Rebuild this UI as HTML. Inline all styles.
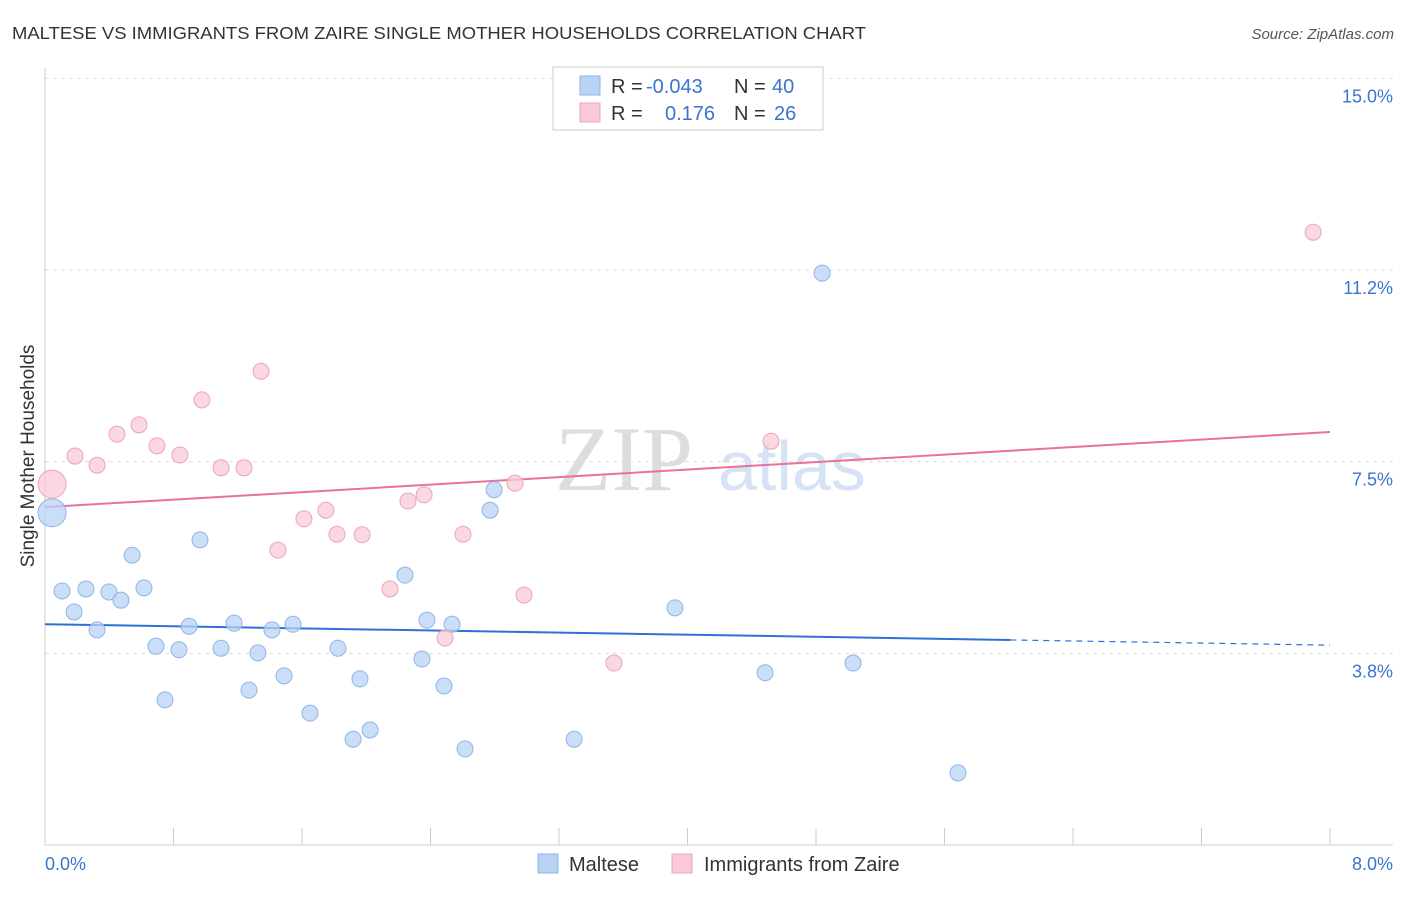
<!DOCTYPE html>
<html><head><meta charset="utf-8"><style>
body{margin:0;background:#fff;font-family:"Liberation Sans",sans-serif;}
</style></head><body>
<svg id="chart" width="1406" height="892" xmlns="http://www.w3.org/2000/svg" style="font-family:'Liberation Sans',sans-serif">
<text x="12" y="39" font-size="17.5" fill="#333" textLength="854" lengthAdjust="spacingAndGlyphs">MALTESE VS IMMIGRANTS FROM ZAIRE SINGLE MOTHER HOUSEHOLDS CORRELATION CHART</text>
<text x="1394" y="39" font-size="15" fill="#555" font-style="italic" text-anchor="end">Source: ZipAtlas.com</text>
<g>
<text x="555" y="490" font-size="92" fill="#ddd" font-family="Liberation Serif,serif">ZIP</text>
<text x="718" y="490" font-size="70" fill="#d5e3f5">atlas</text>
</g>
<g id="grid"></g>
<g id="axes"></g>
<g id="lines"></g>
<g id="points"></g>
<text transform="translate(34,456) rotate(-90)" font-size="19" fill="#333" text-anchor="middle">Single Mother Households</text>
<text x="45" y="870" font-size="18" fill="#3a74d0">0.0%</text>
<text x="1393" y="870" font-size="18" fill="#3a74d0" text-anchor="end">8.0%</text>
<g>
<rect x="553" y="67" width="270" height="63" fill="#fff" stroke="#ccc"/>
<rect x="580" y="76" width="20" height="19" fill="#b8d3f5" stroke="#8fb5e8"/>
<rect x="580" y="103" width="20" height="19" fill="#f9c9d8" stroke="#eea3bb"/>
<text x="611" y="93" font-size="20" fill="#333">R = <tspan x="646" fill="#3a74d0">-0.043</tspan><tspan x="734">N = </tspan><tspan x="772" fill="#3a74d0">40</tspan></text>
<text x="611" y="120" font-size="20" fill="#333">R = <tspan x="665" fill="#3a74d0">0.176</tspan><tspan x="734">N = </tspan><tspan x="774" fill="#3a74d0">26</tspan></text>
</g>
<g>
<rect x="538" y="854" width="20" height="19" fill="#b8d3f5" stroke="#8fb5e8"/>
<text x="569" y="871" font-size="20" fill="#333">Maltese</text>
<rect x="672" y="854" width="20" height="19" fill="#f9c9d8" stroke="#eea3bb"/>
<text x="704" y="871" font-size="20" fill="#333">Immigrants from Zaire</text>
</g>
</svg>
<script>
const yTicks=[3.75,7.5,11.25,15];
const yTickLabels=["3.8%","7.5%","11.2%","15.0%"];
const xTicks=[0,0.8,1.6,2.4,3.2,4,4.8,5.6,6.4,7.2,8];
const malteseX=[0.044,0.106,0.181,0.255,0.324,0.398,0.473,0.542,0.616,0.691,0.747,0.834,0.897,0.965,1.096,1.177,1.270,1.326,1.413,1.488,1.544,1.650,1.824,1.918,1.961,2.024,2.241,2.347,2.378,2.484,2.534,2.615,2.771,2.796,3.294,3.922,4.483,4.838,5.031,5.684];
const malteseY=[6.50,4.97,4.56,5.01,4.21,4.95,4.79,5.67,5.03,3.89,2.84,3.82,4.28,5.97,3.85,4.34,3.03,3.76,4.21,3.31,4.32,2.58,3.85,2.07,3.25,2.25,5.28,3.64,4.40,3.11,4.32,1.88,6.55,6.95,2.07,4.64,3.37,11.19,3.56,1.41];
const zaireX=[0.044,0.187,0.324,0.448,0.585,0.697,0.840,0.977,1.096,1.239,1.345,1.450,1.612,1.749,1.818,1.974,2.148,2.260,2.360,2.490,2.602,2.926,2.982,3.542,4.520,7.895];
const zaireY=[7.06,7.61,7.43,8.04,8.22,7.81,7.63,8.71,7.38,7.38,9.27,5.77,6.38,6.55,6.08,6.07,5.01,6.73,6.85,4.05,6.08,7.08,4.89,3.56,7.90,11.99];
const malteseTrend=[4.32,3.91];
const zaireTrend=[6.61,8.08];
const NS="http://www.w3.org/2000/svg";
const X=v=>45+v/8*1285;
const Y=v=>845-v*51.11;
function mk(tag,attrs,parent){const e=document.createElementNS(NS,tag);for(const k in attrs)e.setAttribute(k,attrs[k]);document.getElementById(parent).appendChild(e);return e;}
yTicks.forEach((t,i)=>{
 let g=mk('line',{x1:45,x2:1393,y1:Y(t),y2:Y(t),stroke:'#ddd','stroke-dasharray':'4,4'},'grid');
 
 
 let l=mk('text',{x:1393,y:Y(t)+24,'font-size':18,fill:'#3a74d0','text-anchor':'end'},'axes');
 l.textContent=yTickLabels[i];
 
 
});
let ya=mk('line',{x1:45,x2:45,y1:68,y2:845,stroke:'#ccc'},'axes');


let xa=mk('line',{x1:45,x2:1393,y1:845,y2:845,stroke:'#ccc'},'axes');


xTicks.forEach(t=>{
 let k=mk('line',{x1:X(t),x2:X(t),y1:828,y2:845,stroke:'#ccc'},'axes');
 
 
});
const slope=(malteseTrend[1]-malteseTrend[0])/8;
let b1=mk('line',{x1:X(0),y1:Y(malteseTrend[0]),x2:X(6.01),y2:Y(malteseTrend[0]+slope*6.01),stroke:'#2f6fd6','stroke-width':2},'lines');


let b2=mk('line',{x1:X(6.01),y1:Y(malteseTrend[0]+slope*6.01),x2:X(8),y2:Y(malteseTrend[1]),stroke:'#2f6fd6','stroke-width':1.2,'stroke-dasharray':'6,5'},'lines');


let p1=mk('line',{x1:X(0),y1:Y(zaireTrend[0]),x2:X(8),y2:Y(zaireTrend[1]),stroke:'#e8739a','stroke-width':2},'lines');


malteseX.forEach((x,i)=>{
 let c=mk('circle',{cx:X(x),cy:Y(malteseY[i]),r:i==0?14:8,fill:'#b8d3f5','fill-opacity':0.75,stroke:'#8fb5e8','stroke-width':1},'points');
 
 
});
zaireX.forEach((x,i)=>{
 let c=mk('circle',{cx:X(x),cy:Y(zaireY[i]),r:i==0?14:8,fill:'#f9c9d8','fill-opacity':0.75,stroke:'#eea3bb','stroke-width':1},'points');
 
 
});
</script>
</body></html>
